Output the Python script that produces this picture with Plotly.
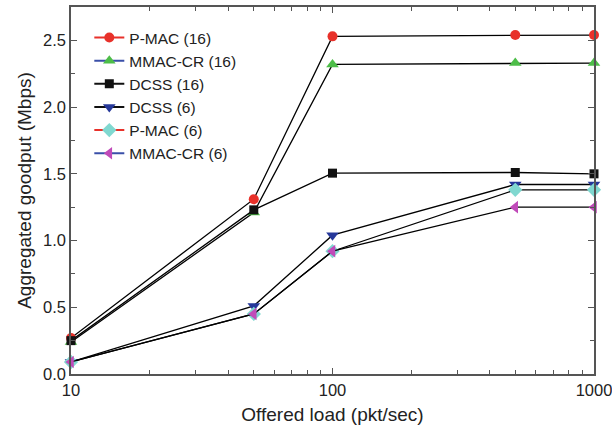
import plotly.graph_objects as go

x_load = [10, 50, 100, 500, 1000]

series_names = ["P-MAC (16)", "MMAC-CR (16)", "DCSS (16)", "DCSS (6)", "P-MAC (6)", "MMAC-CR (6)"]
pmac16 = [0.27, 1.31, 2.53, 2.54, 2.54]
mmac16 = [0.24, 1.21, 2.32, 2.33, 2.33]
dcss16 = [0.25, 1.23, 1.505, 1.51, 1.50]
dcss6 = [0.09, 0.51, 1.04, 1.42, 1.42]
pmac6 = [0.09, 0.45, 0.92, 1.38, 1.38]
mmac6 = [0.09, 0.45, 0.92, 1.25, 1.25]
values = [pmac16, mmac16, dcss16, dcss6, pmac6, mmac6]

marker_colors = ["#e8312a", "#4dbd48", "#111111", "#26389a", "#80d8d0", "#c04ab9"]
legend_line_colors = ["#e8312a", "#3a4fa8", "#111111", "#111111", "#e8312a", "#3a4fa8"]
symbols = ["circle", "triangle-up", "square", "triangle-down", "diamond", "triangle-left"]
sizes = [10, 11, 9, 11, 11, 11]

FONT = "Liberation Sans, Arial"

fig = go.Figure()
for name, ys, mc, sym, sz in zip(series_names, values, marker_colors, symbols, sizes):
    fig.add_trace(go.Scatter(
        x=x_load, y=ys, mode="lines+markers", name=name, showlegend=False,
        line=dict(color="black", width=1.3),
        marker=dict(color=mc, symbol=sym, size=sz, line=dict(width=0)),
        cliponaxis=False,
    ))
for name, lc, mc, sym, sz in zip(series_names, legend_line_colors, marker_colors, symbols, sizes):
    fig.add_trace(go.Scatter(
        x=[None], y=[None], mode="lines+markers", name=name,
        line=dict(color=lc, width=2),
        marker=dict(color=mc, symbol=sym, size=sz, line=dict(width=0)),
    ))

axis_common = dict(
    showline=True, linecolor="#555555", linewidth=1.5, mirror="ticks",
    ticks="inside", ticklen=6, tickwidth=1.2, tickcolor="#555555",
    showgrid=False, zeroline=False, automargin=False,
    ticklabeloverflow="allow",
    tickfont=dict(family=FONT, size=16.5, color="#222222"),
)

fig.update_xaxes(
    type="log", range=[1, 3],
    tickvals=[10, 100, 1000], ticktext=["10", "100", "1000"],
    minor=dict(ticks="inside", ticklen=4, tickcolor="#555555",
               tickvals=[20, 30, 40, 50, 60, 70, 80, 90, 200, 300, 400, 500, 600, 700, 800, 900],
               showgrid=False),
    title=dict(text="Offered load (pkt/sec)", font=dict(family=FONT, size=19, color="#222222"), standoff=10),
    **axis_common,
)
fig.update_yaxes(
    range=[0, 2.75], tickvals=[0, 0.5, 1.0, 1.5, 2.0, 2.5],
    ticktext=["0.0", "0.5", "1.0", "1.5", "2.0", "2.5"],
    minor=dict(ticks="inside", ticklen=4, tickcolor="#555555", dtick=0.25, tick0=0, showgrid=False),
    title=dict(text="Aggregated goodput (Mbps)", font=dict(family=FONT, size=19, color="#222222"), standoff=6),
    **axis_common,
)

fig.update_layout(
    width=612, height=431,
    margin=dict(l=71, r=18, t=7, b=57),
    plot_bgcolor="white", paper_bgcolor="white",
    legend=dict(x=0.035, y=0.962, xanchor="left", yanchor="top",
                bgcolor="rgba(0,0,0,0)", tracegroupgap=0, itemwidth=30,
                font=dict(family=FONT, size=15.5, color="#222222")),
)

fig.write_html("out.html")
